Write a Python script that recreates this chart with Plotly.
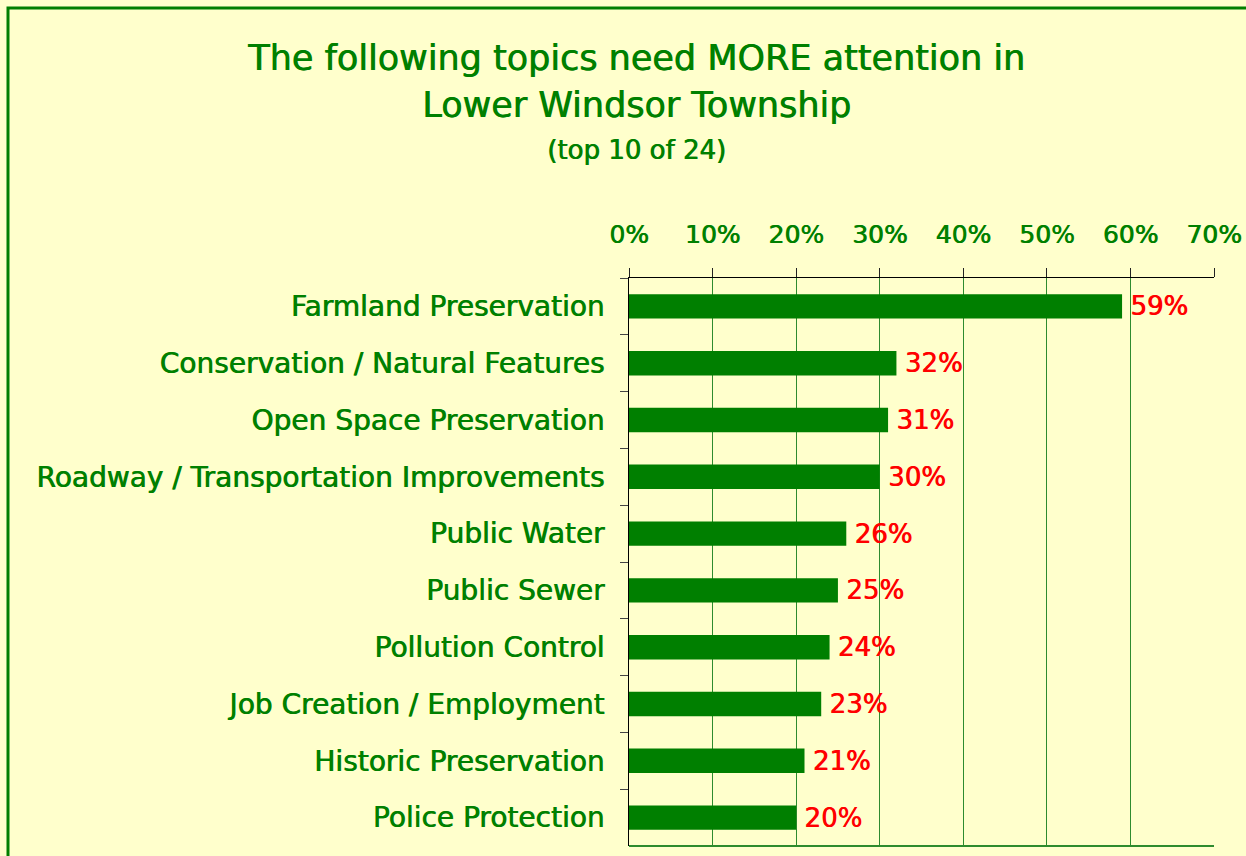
import plotly.graph_objects as go

# Survey results: share of respondents saying each topic needs MORE attention
topics = [
    "Farmland Preservation",
    "Conservation / Natural Features",
    "Open Space Preservation",
    "Roadway / Transportation Improvements",
    "Public Water",
    "Public Sewer",
    "Pollution Control",
    "Job Creation / Employment",
    "Historic Preservation",
    "Police Protection",
]
shares = [0.59, 0.32, 0.31, 0.30, 0.26, 0.25, 0.24, 0.23, 0.21, 0.20]
x_ticks = [0, 0.1, 0.2, 0.3, 0.4, 0.5, 0.6, 0.7]
x_tick_labels = ["0%", "10%", "20%", "30%", "40%", "50%", "60%", "70%"]

GREEN = "#007F00"
TEXT_GREEN = "#008000"
RED = "#FF0000"
BG = "#FFFFCC"
FONT = "DejaVu Sans"
# slight horizontal shadow to give the text a heavier stroke
GREEN_HEAVY = "0.7px 0 0 " + TEXT_GREEN
RED_HEAVY = "0.7px 0 0 " + RED

fig = go.Figure(
    go.Bar(
        x=shares,
        y=topics,
        orientation="h",
        marker=dict(color=GREEN, line=dict(width=0)),
        width=0.43,
        text=["\u2009" + f"{v:.0%}" for v in shares],
        textposition="outside",
        constraintext="none",
        textfont=dict(color=RED, size=26, family=FONT, shadow=RED_HEAVY),
        cliponaxis=False,
    )
)

fig.update_layout(
    width=1246,
    height=856,
    paper_bgcolor=BG,
    plot_bgcolor=BG,
    margin=dict(l=629, r=32, t=278, b=10),
    showlegend=False,
    font=dict(family=FONT, color=TEXT_GREEN),
    xaxis=dict(
        side="top",
        range=[0, 0.7],
        tickvals=x_ticks,
        ticktext=x_tick_labels,
        tickfont=dict(size=25, color=TEXT_GREEN, family=FONT, shadow=GREEN_HEAVY),
        ticks="outside",
        ticklen=9,
        tickcolor="#222222",
        showline=True,
        linecolor="#000000",
        linewidth=1,
        showgrid=True,
        gridcolor="#2E8B2E",
        gridwidth=1,
        zeroline=False,
        ticklabelstandoff=15,
        automargin=False,
        fixedrange=True,
    ),
    yaxis=dict(
        autorange="reversed",
        tickfont=dict(size=28, color=TEXT_GREEN, family=FONT, shadow=GREEN_HEAVY),
        ticks="outside",
        tickson="boundaries",
        ticklen=8,
        tickcolor="#444444",
        showline=True,
        linecolor="#000000",
        linewidth=1,
        showgrid=False,
        ticklabelstandoff=18,
        automargin=False,
        fixedrange=True,
    ),
)

# Bottom frame of the plot area
fig.add_shape(type="line", xref="x", yref="paper", x0=0, x1=0.7, y0=0, y1=0,
              line=dict(color="#2E8B2E", width=2))

# Outer green border of the chart
fig.add_shape(type="rect", xref="paper", yref="paper",
              x0=-621 / 585, x1=1.2, y0=-0.2, y1=1 + 270 / 568,
              line=dict(color=GREEN, width=3), fillcolor="rgba(0,0,0,0)",
              layer="below")

# Title block, centred on the page
title_lines = [
    ("The following topics need MORE attention in", 35, 58),
    ("Lower Windsor Township", 35, 105),
    ("(top 10 of 24)", 26, 150),
]
for text, size, ypix in title_lines:
    fig.add_annotation(
        text=text, xref="paper", yref="paper",
        x=(636 - 629) / 585, y=1 + (278 - ypix) / 568,
        xanchor="center", yanchor="middle", showarrow=False,
        font=dict(size=size, color=TEXT_GREEN, family=FONT, shadow=GREEN_HEAVY),
    )

fig.write_html("out.html")
